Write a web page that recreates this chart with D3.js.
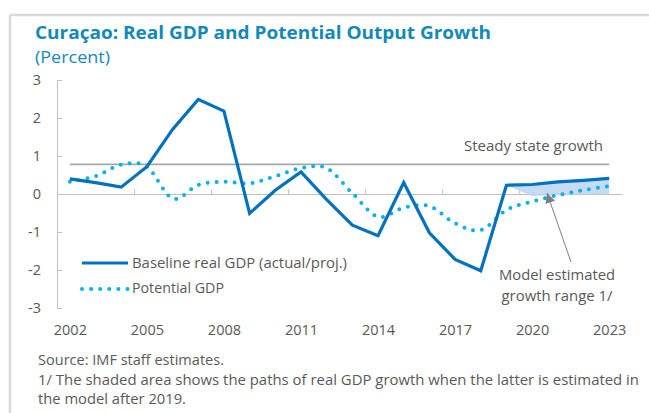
<!DOCTYPE html>
<html>
<head>
<meta charset="utf-8">
<script src="https://cdn.jsdelivr.net/npm/d3@7/dist/d3.min.js"></script>
<style>
  html, body { margin: 0; padding: 0; background: #fff; }
  svg { display: block; font-family: "Open Sans", "Noto Sans", sans-serif; }
</style>
</head>
<body>
<svg id="chart" width="649" height="413"></svg>
<script>
// ---- Data ----
const years = [2002,2003,2004,2005,2006,2007,2008,2009,2010,2011,2012,2013,2014,2015,2016,2017,2018,2019,2020,2021,2022,2023];
const baselineGDP = [0.40,0.30,0.18,0.72,1.70,2.49,2.18,-0.51,0.10,0.58,-0.15,-0.82,-1.10,0.30,-1.02,-1.72,-2.02,0.23,0.25,0.32,0.36,0.41];
const potentialGDP = [0.32,0.47,0.77,0.72,-0.12,0.24,0.32,0.28,0.47,0.68,0.68,0.02,-0.60,-0.36,-0.32,-0.77,-0.95,-0.42,-0.20,-0.03,0.10,0.21];
const shadeYears = [2019,2020,2021,2022,2023];
const shadeUpper = [0.23,0.25,0.32,0.36,0.41];
const shadeLower = [0.23,-0.05,-0.03,-0.01,0.00];
const steadyState = 0.78;
const steadyYears = [2002, 2023];
const yTicks = [-3,-2,-1,0,1,2,3];
const xTickLabels = [2002,2005,2008,2011,2014,2017,2020,2023];
const xTickMarks = [2001.5,2004.5,2007.5,2010.5,2013.5,2016.5,2019.5,2022.5];
const seriesNames = ["Baseline real GDP (actual/proj.)", "Potential GDP"];
const titleText = "Curaçao: Real GDP and Potential Output Growth";
const subtitleText = "(Percent)";
const steadyLabel = "Steady state growth";
const annotationLines = ["Model estimated", "growth range 1/"];
const footnotes = ["Source: IMF staff estimates.",
  "1/ The shaded area shows the paths of real GDP growth when the latter is estimated in",
  "the model after 2019."];

// ---- Styles ----
const blue = "#0070c0", lightBlue = "#00b0f0", titleBlue = "#1289b8";
const textGray = "#595959", axisGray = "#c0c0c0";

const svg = d3.select("#chart");

// fit a text element to a target width
function fit(sel, w) { sel.attr("textLength", w).attr("lengthAdjust", "spacingAndGlyphs"); return sel; }

// frame (top and left light border)
svg.append("line").attr("x1", 10).attr("x2", 649).attr("y1", 15).attr("y2", 15)
  .attr("stroke", "#d9d9d9").attr("stroke-width", 2.5);
svg.append("line").attr("x1", 10).attr("x2", 10).attr("y1", 15).attr("y2", 413)
  .attr("stroke", "#d9d9d9").attr("stroke-width", 2.5);

// titles
fit(svg.append("text").attr("x", 35).attr("y", 39).attr("fill", titleBlue)
  .attr("font-weight", "bold").attr("font-size", 18).text(titleText), 456);
fit(svg.append("text").attr("x", 35).attr("y", 63).attr("fill", titleBlue)
  .attr("font-size", 17).text(subtitleText), 75);

// scales
const x = d3.scaleLinear().domain([2001.5, 2023.5]).range([57, 622]);
const y = d3.scaleLinear().domain([-3, 3]).range([308, 80]);

// y axis
const yAxis = svg.append("g").attr("transform", `translate(${x(2001.5)},0)`)
  .call(d3.axisLeft(y).tickValues(yTicks).tickFormat(d => String(d))
    .tickSizeInner(-5).tickSizeOuter(0).tickPadding(16));
yAxis.select(".domain").attr("stroke", axisGray);
yAxis.selectAll(".tick line").attr("stroke", axisGray);
yAxis.selectAll(".tick text").attr("fill", textGray).attr("font-size", 14.5)
  .attr("font-family", "Open Sans, Noto Sans, sans-serif");

// zero-line x axis with upward tick marks
const xAxis0 = svg.append("g").attr("transform", `translate(0,${y(0)})`)
  .call(d3.axisBottom(x).tickValues(xTickMarks).tickFormat(() => "")
    .tickSizeInner(-5).tickSizeOuter(0));
xAxis0.select(".domain").attr("stroke", axisGray);
xAxis0.selectAll(".tick line").attr("stroke", axisGray);

// x labels at bottom
const xAxisL = svg.append("g").attr("transform", `translate(0,${y(-3)})`)
  .call(d3.axisBottom(x).tickValues(xTickLabels).tickFormat(d => String(d))
    .tickSize(0).tickPadding(17));
xAxisL.select(".domain").remove();
xAxisL.selectAll(".tick text").attr("fill", textGray).attr("font-size", 14.5)
  .attr("font-family", "Open Sans, Noto Sans, sans-serif");

// steady state line
svg.append("line").attr("x1", x(steadyYears[0])).attr("x2", x(steadyYears[1]))
  .attr("y1", y(steadyState)).attr("y2", y(steadyState))
  .attr("stroke", "#a6a6a6").attr("stroke-width", 1.6);
fit(svg.append("text").attr("x", 464).attr("y", 151)
  .attr("fill", textGray).attr("font-size", 15).text(steadyLabel), 139);

// shaded area
const area = d3.area().x((d, i) => x(shadeYears[i]))
  .y0((d, i) => y(shadeLower[i])).y1((d, i) => y(shadeUpper[i]));
svg.append("path").attr("d", area(shadeYears)).attr("fill", "#bcd3ee").attr("opacity", 0.85);

// potential GDP (smoothed, dotted)
const potLine = d3.line().x((d, i) => x(years[i])).y(d => y(d)).curve(d3.curveCardinal.tension(0));
svg.append("path").attr("d", potLine(potentialGDP)).attr("fill", "none")
  .attr("stroke", lightBlue).attr("stroke-width", 4).attr("stroke-linecap", "round")
  .attr("stroke-dasharray", "0,9");

// baseline GDP (solid)
const baseLine = d3.line().x((d, i) => x(years[i])).y(d => y(d));
svg.append("path").attr("d", baseLine(baselineGDP)).attr("fill", "none")
  .attr("stroke", blue).attr("stroke-width", 3.2).attr("stroke-linejoin", "miter");

// annotation arrow
svg.append("defs").append("marker").attr("id", "arrow").attr("viewBox", "0 0 10 10")
  .attr("refX", 10).attr("refY", 5).attr("markerWidth", 10).attr("markerHeight", 10)
  .attr("markerUnits", "userSpaceOnUse").attr("orient", "auto")
  .append("path").attr("d", "M0,0 L10,5 L0,10 z").attr("fill", "#7f7f7f");
svg.append("line").attr("x1", 571).attr("y1", 262).attr("x2", 547).attr("y2", 193)
  .attr("stroke", "#7f7f7f").attr("stroke-width", 1).attr("marker-end", "url(#arrow)");
const annW = [116, 111];
annotationLines.forEach((t, i) => {
  fit(svg.append("text").attr("x", 557 - annW[i] / 2).attr("y", 280 + i * 21)
    .attr("fill", textGray).attr("font-size", 15).text(t), annW[i]);
});

// legend
const lg = svg.append("g");
lg.append("line").attr("x1", 82).attr("x2", 128).attr("y1", 263).attr("y2", 263)
  .attr("stroke", blue).attr("stroke-width", 3.2);
lg.append("line").attr("x1", 82).attr("x2", 128).attr("y1", 289).attr("y2", 289)
  .attr("stroke", lightBlue).attr("stroke-width", 4).attr("stroke-linecap", "round")
  .attr("stroke-dasharray", "0,9.1");
const legW = [215, 92];
seriesNames.forEach((t, i) => {
  fit(lg.append("text").attr("x", 132).attr("y", 268 + i * 25).attr("fill", textGray)
    .attr("font-size", 15).text(t), legW[i]);
});

// footnotes
const footW = [186, 601, 148];
const footY = [365, 385, 404];
footnotes.forEach((t, i) => {
  fit(svg.append("text").attr("x", 38).attr("y", footY[i]).attr("fill", textGray)
    .attr("font-size", 14.5).text(t), footW[i]);
});
</script>
</body>
</html>
